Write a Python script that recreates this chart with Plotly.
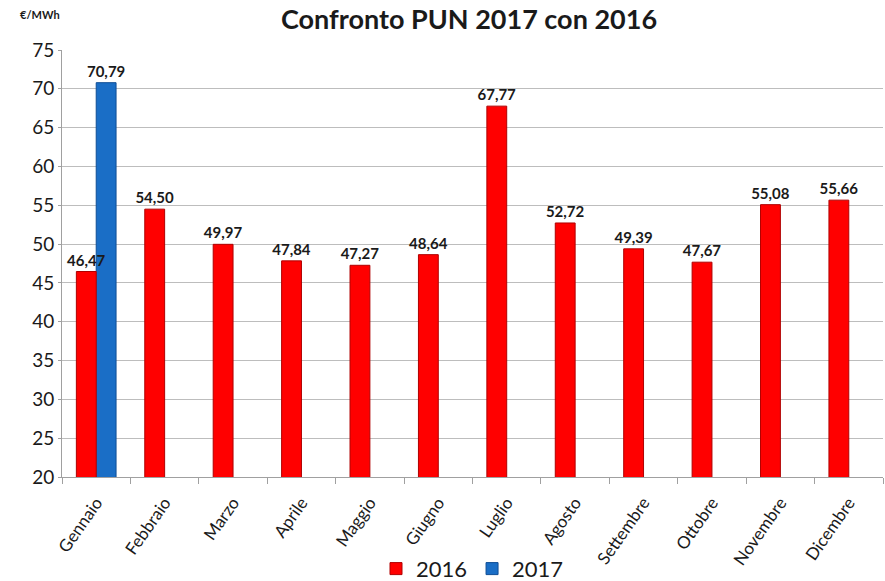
import plotly.graph_objects as go

mesi = ["Gennaio", "Febbraio", "Marzo", "Aprile", "Maggio", "Giugno", "Luglio",
        "Agosto", "Settembre", "Ottobre", "Novembre", "Dicembre"]
pun_2016 = [46.47, 54.50, 49.97, 47.84, 47.27, 48.64, 67.77, 52.72, 49.39, 47.67, 55.08, 55.66]
pun_2017 = [70.79, None, None, None, None, None, None, None, None, None, None, None]

lbl_font = dict(family="Lato", size=15, color="#1a1a1a", weight="bold")
bar_w = 0.29

fig = go.Figure()
# 2017 drawn first so that the 2016 labels sit on top of it
fig.add_trace(go.Bar(
    x=mesi, y=pun_2017, name="2017", width=bar_w, offset=0,
    marker=dict(color="#1A6EC6", line=dict(color="#0F4E95", width=1)),
    texttemplate="%{y:.2f}", textposition="outside", constraintext="none",
    textfont=lbl_font, cliponaxis=False,
))
fig.add_trace(go.Bar(
    x=mesi, y=pun_2016, name="2016", width=bar_w, offset=-bar_w,
    marker=dict(color="#FF0000", line=dict(color="#B00000", width=1)),
    texttemplate="%{y:.2f}", textposition="outside", constraintext="none",
    textfont=lbl_font, cliponaxis=False,
))

fig.update_layout(
    width=885, height=581,
    separators=",.",
    barmode="overlay",
    plot_bgcolor="white", paper_bgcolor="white",
    margin=dict(l=62, r=2, t=50, b=104),
    title=dict(text="<b>Confronto PUN 2017 con 2016</b>", x=0.53, xanchor="center",
               y=0.966, yanchor="middle",
               font=dict(family="Lato", size=27, color="#1a1a1a")),
    legend=dict(orientation="h", x=0.5, xanchor="center", y=0.021, yanchor="middle",
                yref="container",
                font=dict(family="Lato", size=22, color="#1a1a1a"),
                itemwidth=30, traceorder="reversed"),
    font=dict(family="Lato", color="#1a1a1a"),
    annotations=[dict(text="<b>€/MWh</b>", xref="paper", yref="paper",
                      x=-0.053, y=1.083, xanchor="left", yanchor="middle",
                      showarrow=False, font=dict(family="Lato", size=11, color="#1a1a1a"))],
)
fig.update_yaxes(range=[20, 75], dtick=5, showgrid=True, gridcolor="#BDBDBD", gridwidth=1,
                 showline=True, linecolor="#A0A0A0", ticks="outside", ticklen=3,
                 tickcolor="#A0A0A0", automargin=False,
                 tickfont=dict(family="Lato", size=19, color="#1a1a1a"),
                 zeroline=False)
fig.update_xaxes(showline=True, linecolor="#A0A0A0", tickangle=-55, automargin=False,
                 ticks="outside", ticklen=6, tickcolor="#A0A0A0", tickson="boundaries",
                 ticklabelstandoff=8,
                 tickfont=dict(family="Lato", size=17, color="#1a1a1a"))

fig.write_html("out.html", config={"displayModeBar": False},
               post_script="document.body.style.margin='0';document.body.style.padding='0';")
